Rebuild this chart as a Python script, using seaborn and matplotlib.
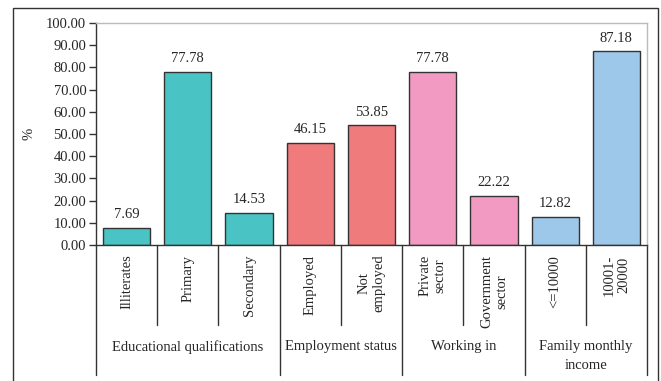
import matplotlib
matplotlib.use("Agg")
import matplotlib.pyplot as plt
import seaborn as sns
import pandas as pd
from matplotlib.patches import Rectangle
from matplotlib.ticker import FormatStrFormatter

categories = ["Illiterates", "Primary", "Secondary", "Employed", "Not\nemployed",
              "Private\nsector", "Government\nsector", "<=10000", "10001-\n20000"]
values = [7.69, 77.78, 14.53, 46.15, 53.85, 77.78, 22.22, 12.82, 87.18]
groups = ["Educational qualifications"] * 3 + ["Employment status"] * 2 + \
         ["Working in"] * 2 + ["Family monthly\nincome"] * 2
group_names = ["Educational qualifications", "Employment status", "Working in",
               "Family monthly\nincome"]
colors = ["#49C3C4", "#F07B7C", "#F39AC3", "#9EC8EA"]

sns.set_style("white")
plt.rcParams["font.family"] = ["Liberation Serif", "DejaVu Serif"]
plt.rcParams["font.size"] = 10

df = pd.DataFrame({"cat": categories, "val": values, "grp": groups})

fig = plt.figure(figsize=(6.61, 3.81), dpi=100)
ax = fig.add_axes([96 / 661, 1 - 245 / 381, (647 - 96) / 661, (245 - 23) / 381])

sns.barplot(data=df, x="cat", y="val", hue="grp", hue_order=group_names,
            palette=colors, dodge=False, width=0.77, edgecolor="#333333",
            linewidth=1.0, legend=False, saturation=1, ax=ax)

for cont in ax.containers:
    ax.bar_label(cont, fmt="%.2f", padding=5, fontsize=10.5)

ax.set_ylim(0, 100)
ax.set_xlim(-0.5, len(categories) - 0.5)
ax.set_yticks(range(0, 101, 10))
ax.yaxis.set_major_formatter(FormatStrFormatter("%.2f"))
ax.set_ylabel("%", fontsize=10.5, labelpad=8)
ax.set_xlabel("")
ax.tick_params(axis="y", direction="out", length=5, width=1, color="#333333",
               left=True, labelsize=10.5, pad=2)
ax.tick_params(axis="x", length=0, pad=7, labelsize=10.5)
ax.set_xticks(range(len(categories)))
ax.set_xticklabels(categories, rotation=90, va="top", ha="center")
for lab in ax.get_xticklabels():
    lab.set_multialignment("center")

for s in ["left", "bottom"]:
    ax.spines[s].set_color("#333333")
    ax.spines[s].set_linewidth(1.0)
for s in ["top", "right"]:
    ax.spines[s].set_color("#BBBBBB")
    ax.spines[s].set_linewidth(1.0)

# category separators
trans = ax.get_xaxis_transform()
h = 245 - 23
short_y = (245 - 325) / h
long_y = (245 - 375) / h
boundaries_group = [-0.5, 2.5, 4.5, 6.5, 8.5]
for i in range(len(categories) + 1):
    xb = i - 0.5
    y1 = long_y if xb in boundaries_group else short_y
    ax.plot([xb, xb], [0, y1], transform=trans, color="#333333", lw=1.0,
            clip_on=False)

group_centers = [1, 3.5, 5.5, 7.5]
for gname, xc in zip(group_names, group_centers):
    ax.text(xc, (245 - 340) / h, gname, transform=trans, ha="center", va="top",
            fontsize=10.5, linespacing=1.6, multialignment="center")

fig.patches.append(Rectangle((13 / 661, -0.05), (658 - 13) / 661, 1.05 - 8 / 381,
                             transform=fig.transFigure, fill=False,
                             edgecolor="#333333", lw=1.0))

fig.savefig("out.png", dpi=100)
